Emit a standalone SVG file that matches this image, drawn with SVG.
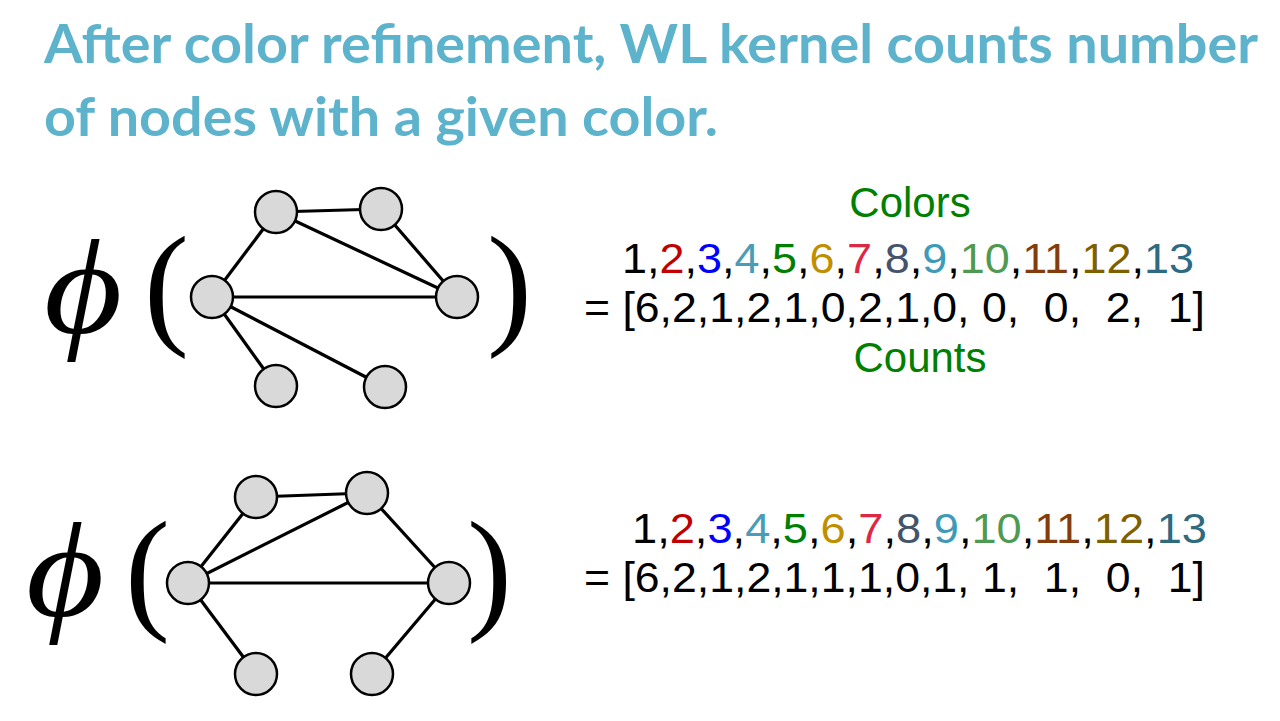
<svg xmlns="http://www.w3.org/2000/svg" width="1280" height="721" viewBox="0 0 1280 721">
<style>
.title{font-family:Lato,"Open Sans",sans-serif;font-weight:bold;font-size:53px;fill:#5DB3CC}
.num{font-family:"Liberation Sans",Arial,sans-serif;font-size:43px;fill:#000}
.lbl{font-family:"Liberation Sans",Arial,sans-serif;font-size:42px;fill:#008000;text-anchor:middle}
.phi{font-family:"Liberation Serif","DejaVu Serif",serif;font-style:italic;font-size:135px;fill:#000}
.par{font-family:"Liberation Serif","DejaVu Serif",serif;font-size:135px;fill:#000}
.node{fill:#D9D9D9;stroke:#000;stroke-width:2.5}
.edge{stroke:#000;stroke-width:3.2;fill:none}
.c2{fill:#C00000}.c3{fill:#0000FF}.c4{fill:#4A9DB8}.c5{fill:#008000}.c6{fill:#BF8F00}.c7{fill:#DC2845}.c8{fill:#44546A}.c9{fill:#3E9AB8}.c10{fill:#4E9A52}.c11{fill:#843C0C}.c12{fill:#7F6000}.c13{fill:#2E6A80}
</style>
<rect width="1280" height="721" fill="#fff"/>
<text class="title" x="44" y="63" textLength="1214" lengthAdjust="spacingAndGlyphs">After color refinement, WL kernel counts number</text>
<text class="title" x="44" y="136" textLength="674" lengthAdjust="spacingAndGlyphs">of nodes with a given color.</text>

<g id="graph1">
<text class="phi" transform="translate(44,333) scale(1.12,1)">ϕ</text>
<text class="par" x="144" y="330">(</text>
<text class="par" x="487" y="330">)</text>
<g id="edges1">
<line class="edge" x1="276" y1="212" x2="381" y2="209"/>
<line class="edge" x1="276" y1="212" x2="212" y2="297"/>
<line class="edge" x1="276" y1="212" x2="457" y2="297"/>
<line class="edge" x1="381" y1="209" x2="457" y2="297"/>
<line class="edge" x1="212" y1="297" x2="457" y2="297"/>
<line class="edge" x1="212" y1="297" x2="276" y2="386"/>
<line class="edge" x1="212" y1="297" x2="385" y2="387"/>
</g>
<g id="g1n1"><circle class="node" cx="276" cy="212" r="21"/></g>
<g id="g1n2"><circle class="node" cx="381" cy="209" r="21"/></g>
<g id="g1n3"><circle class="node" cx="212" cy="297" r="21"/></g>
<g id="g1n4"><circle class="node" cx="457" cy="297" r="21"/></g>
<g id="g1n5"><circle class="node" cx="276" cy="386" r="21"/></g>
<g id="g1n6"><circle class="node" cx="385" cy="387" r="21"/></g>
</g>

<g id="graph2">
<text class="phi" transform="translate(26,616) scale(1.12,1)">ϕ</text>
<text class="par" x="125" y="615">(</text>
<text class="par" x="467" y="615">)</text>
<g id="edges2">
<line class="edge" x1="256" y1="497" x2="367" y2="493"/>
<line class="edge" x1="256" y1="497" x2="188" y2="583"/>
<line class="edge" x1="367" y1="493" x2="188" y2="583"/>
<line class="edge" x1="367" y1="493" x2="449" y2="583"/>
<line class="edge" x1="188" y1="583" x2="449" y2="583"/>
<line class="edge" x1="188" y1="583" x2="256" y2="674"/>
<line class="edge" x1="449" y1="583" x2="372" y2="674"/>
</g>
<g id="g2n1"><circle class="node" cx="256" cy="497" r="21"/></g>
<g id="g2n2"><circle class="node" cx="367" cy="493" r="21"/></g>
<g id="g2n3"><circle class="node" cx="188" cy="583" r="21"/></g>
<g id="g2n4"><circle class="node" cx="449" cy="583" r="21"/></g>
<g id="g2n5"><circle class="node" cx="256" cy="674" r="21"/></g>
<g id="g2n6"><circle class="node" cx="372" cy="674" r="21"/></g>
</g>

<g id="vector1">
<text class="lbl" x="910" y="217">Colors</text>
<text class="num" x="622" y="273" textLength="572" lengthAdjust="spacingAndGlyphs">1,<tspan class="c2">2</tspan>,<tspan class="c3">3</tspan>,<tspan class="c4">4</tspan>,<tspan class="c5">5</tspan>,<tspan class="c6">6</tspan>,<tspan class="c7">7</tspan>,<tspan class="c8">8</tspan>,<tspan class="c9">9</tspan>,<tspan class="c10">10</tspan>,<tspan class="c11">11</tspan>,<tspan class="c12">12</tspan>,<tspan class="c13">13</tspan></text>
<text class="num" x="584" y="322" textLength="621" lengthAdjust="spacingAndGlyphs" xml:space="preserve">= [6,2,1,2,1,0,2,1,0, 0,  0,  2,  1]</text>
<text class="lbl" x="920" y="372">Counts</text>
</g>

<g id="vector2">
<text class="num" x="632" y="543" textLength="575" lengthAdjust="spacingAndGlyphs">1,<tspan class="c2">2</tspan>,<tspan class="c3">3</tspan>,<tspan class="c4">4</tspan>,<tspan class="c5">5</tspan>,<tspan class="c6">6</tspan>,<tspan class="c7">7</tspan>,<tspan class="c8">8</tspan>,<tspan class="c9">9</tspan>,<tspan class="c10">10</tspan>,<tspan class="c11">11</tspan>,<tspan class="c12">12</tspan>,<tspan class="c13">13</tspan></text>
<text class="num" x="584" y="592" textLength="621" lengthAdjust="spacingAndGlyphs" xml:space="preserve">= [6,2,1,2,1,1,1,0,1, 1,  1,  0,  1]</text>
</g>
</svg>
